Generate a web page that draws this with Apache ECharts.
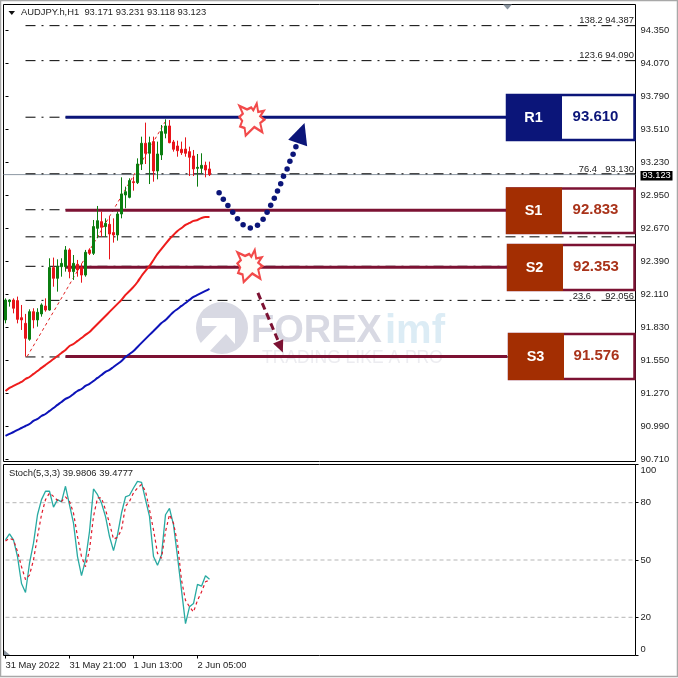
<!DOCTYPE html>
<html>
<head>
<meta charset="utf-8">
<style>html,body{margin:0;padding:0;background:#fff}#c{width:678px;height:678px}</style>
<script src="https://cdn.jsdelivr.net/npm/echarts@6/dist/echarts.min.js"></script>
</head>
<body>
<div id="c"></div>
<script>
// [open, close, low, high]
const candles = [
[91.890,92.059,91.861,92.073],[92.045,92.059,92.003,92.065],[92.059,91.989,91.946,92.073],[92.054,91.895,91.861,92.088],
[91.909,91.890,91.805,92.017],[91.861,91.734,91.579,91.941],[91.726,91.960,91.714,91.980],[91.960,91.890,91.819,91.989],
[91.890,91.955,91.833,91.989],[91.941,92.017,91.918,92.031],[92.008,91.974,91.960,92.073],[91.974,92.334,91.969,92.413],
[92.334,92.243,92.172,92.419],[92.243,92.342,92.130,92.404],[92.342,92.370,92.257,92.413],[92.342,92.484,92.300,92.517],
[92.484,92.300,92.243,92.498],[92.300,92.370,92.229,92.441],[92.362,92.314,92.257,92.399],[92.334,92.271,92.206,92.370],
[92.271,92.464,92.257,92.484],[92.484,92.455,92.441,92.498],[92.455,92.682,92.441,92.738],[92.667,92.732,92.583,92.857],
[92.724,92.676,92.597,92.809],[92.682,92.710,92.597,92.752],[92.701,92.619,92.404,92.766],[92.631,92.611,92.546,92.752],
[92.611,92.789,92.563,92.809],[92.789,92.959,92.752,93.100],[92.950,92.978,92.837,93.021],[92.930,93.072,92.922,93.092],
[93.063,93.055,92.987,93.106],[93.055,93.213,93.043,93.261],[93.213,93.389,93.162,93.445],[93.389,93.304,93.213,93.564],
[93.304,93.394,93.043,93.445],[93.403,93.154,93.063,93.445],[93.154,93.298,93.083,93.403],[93.290,93.488,93.247,93.544],
[93.473,93.536,93.431,93.592],[93.536,93.394,93.389,93.586],[93.400,93.338,93.318,93.417],[93.366,93.326,93.275,93.411],
[93.338,93.309,93.290,93.403],[93.340,93.304,93.275,93.439],[93.318,93.270,93.111,93.360],[93.281,93.171,93.111,93.332],
[93.176,93.185,93.021,93.298],[93.176,93.202,93.134,93.304],[93.202,93.162,93.100,93.233],[93.171,93.123,93.111,93.233]
];
const maRed = [91.287,91.313,91.330,91.347,91.364,91.389,91.406,91.432,91.457,91.483,91.508,91.533,91.559,91.584,91.610,91.635,91.669,91.686,91.712,91.737,91.763,91.788,91.822,91.856,91.890,91.924,91.958,91.992,92.026,92.060,92.102,92.136,92.170,92.212,92.263,92.306,92.348,92.399,92.450,92.492,92.535,92.577,92.611,92.645,92.670,92.696,92.713,92.730,92.738,92.755,92.764,92.764];
const maBlue = [90.906,90.923,90.939,90.957,90.973,90.990,91.007,91.033,91.050,91.075,91.092,91.118,91.143,91.169,91.194,91.220,91.236,91.262,91.287,91.304,91.330,91.347,91.372,91.398,91.423,91.449,91.466,91.491,91.516,91.542,91.576,91.601,91.627,91.661,91.695,91.729,91.763,91.796,91.830,91.864,91.890,91.924,91.958,91.983,92.009,92.034,92.060,92.085,92.102,92.119,92.136,92.153];
const stochMain = [60.5,63.7,60.5,51.8,37.7,33.0,48.3,58.8,73.7,81.6,86.0,86.0,77.7,81.6,80.4,88.6,78.9,69.3,51.8,41.8,50.0,64.9,87.2,84.2,79.8,72.8,62.3,54.9,63.2,74.6,83.0,83.9,87.7,91.2,90.7,81.6,72.8,51.8,47.2,52.6,73.7,77.0,68.4,51.8,34.2,16.7,25.5,27.2,37.2,36.3,41.8,39.98];
const stochSignal = [60.0,61.4,60.5,54.4,46.5,39.8,42.1,50.0,62.3,73.7,81.6,85.1,83.3,81.2,80.7,83.0,80.7,74.6,62.3,51.8,46.5,55.3,72.8,82.5,82.5,76.3,69.3,60.9,61.9,65.8,78.1,80.7,85.1,87.7,89.5,86.0,76.3,65.8,53.5,50.9,64.9,73.7,69.3,58.8,39.5,28.9,25.5,22.8,28.9,33.3,38.6,39.48];
const priceTicks = [94.35,94.07,93.79,93.51,93.23,92.95,92.67,92.39,92.11,91.83,91.55,91.27,90.99,90.71];
const stochTicks = [0,20,50,80,100];
const timeLabels = {0:'31 May 2022',16:'31 May 21:00',32:'1 Jun 13:00',48:'2 Jun 05:00'};
const fibLevels = [94.387,94.090,93.610,93.130,92.825,92.595,92.345,92.056,91.576];
const fibStartBar = 5;
const lastPrice = 93.123;
const fibTrend = [[5.4,91.579],[39.9,93.57]];
const levelR1 = [[15,93.61],[125.4,93.61]];
const levelS1 = [[15,92.82],[125.4,92.82]];
const levelS2 = [[15,92.338],[125.4,92.338]];
const levelS3 = [[15,91.58],[125.4,91.58]];
const forecastUp = [[53.4,92.970],[54.45,92.914],[55.6,92.860],[56.8,92.803],[58.0,92.749],[59.4,92.698],[61.2,92.670],[63.0,92.693],[64.4,92.744],[65.4,92.803],[66.3,92.863],[67.2,92.922],[68.0,92.984],[68.8,93.046],[69.5,93.109],[70.4,93.171],[71.1,93.236],[71.9,93.296],[72.6,93.360]];
const arrowUpHead = [[73.9,93.476]];
const forecastDown = [[63.1,92.119],[68.6,91.678]];
const arrowDownHead = [[68.75,91.661]];
const bursts = [[61.6,93.591],[61.1,92.348]];
const barCount = 158;
const categories = Array.from({length:barCount},(_,i)=>String(i));

const NAVY='#0b1579', MAROON='#7c1233', BROWN='#a32e02';
const FONT='"Liberation Sans",Arial,sans-serif';
const BOLD='"Liberation Sans",Arial,sans-serif';
const TXT=9.4;
const burstPath='path://M90,47 L112,58 L124,52 L130,60 L140,40 L144,65 L160,62 L150,78 L162,88 L150,98 L156,125 L133,110 L108,135 L105,113 L92,108 L98,92 L90,80 L100,70 Z';

function line(data,color,width,type,z){
  return {type:'line',xAxisIndex:1,yAxisIndex:0,data,symbol:'none',silent:true,animation:false,z:z||3,
    lineStyle:{color,width,type:type||'solid'}};
}
function box(y,h,x0,split,fill,border,label,value,textColor){
  const w=634.5-x0;
  return [
    {type:'rect',z:100,shape:{x:x0,y:y,width:w,height:h},style:{fill:'#fff',stroke:border,lineWidth:2.5}},
    {type:'rect',z:101,shape:{x:x0-1,y:y-1,width:split-x0+1,height:h+2},style:{fill:fill}},
    {type:'text',z:102,x:(x0+split)/2-1,y:y+h/2,style:{text:label,fill:'#fff',font:'bold 14.5px '+BOLD,align:'center',verticalAlign:'middle'}},
    {type:'text',z:102,x:(split+634)/2-2.5,y:y+h/2-0.5,style:{text:value,fill:textColor,font:'bold 15px '+BOLD,align:'center',verticalAlign:'middle'}}
  ];
}
function small(text,x,y,align,z){
  return {type:'text',z:z||50,x,y,style:{text,fill:'#222',font:TXT+'px '+FONT,align:align||'right',verticalAlign:'middle'}};
}
const graphics=[
  {type:'rect',z:200,shape:{x:0.5,y:0.5,width:677,height:676},style:{fill:'none',stroke:'#a8a8a8',lineWidth:1.5}},
  // watermark
  {type:'circle',z:1,shape:{cx:222,cy:328,r:26},style:{fill:'#d8d9e3'}},
  {type:'polygon',z:1,shape:{points:[[202,318],[235,318],[235,344],[226,334],[208,353],[197,347],[217,326],[202,326]]},style:{fill:'#fff'}},
  {type:'text',z:1,x:251,y:332,style:{text:'FOREX',fill:'#d8d9e3',font:'bold 38px '+BOLD,verticalAlign:'middle'}},
  {type:'text',z:1,x:385,y:332,style:{text:'imf',fill:'#dcecf5',font:'bold 40px '+BOLD,verticalAlign:'middle'}},
  {type:'text',z:1,x:262,y:358,style:{text:'TRADING LIKE A PRO',fill:'#ececf0',font:'17.5px '+BOLD,verticalAlign:'middle'}},
  // header
  {type:'polygon',z:50,shape:{points:[[8.5,11],[15,11],[11.8,15]]},style:{fill:'#111'}},
  {type:'text',z:50,x:21,y:12.5,style:{text:'AUDJPY.h,H1  93.171 93.231 93.118 93.123',fill:'#222',font:TXT+'px '+FONT,verticalAlign:'middle'}},
  {type:'text',z:50,x:9,y:473.5,style:{text:'Stoch(5,3,3) 39.9806 39.4777',fill:'#222',font:TXT+'px '+FONT,verticalAlign:'middle'}},
  {type:'polygon',z:50,shape:{points:[[503,4.5],[512,4.5],[507.5,9.5]]},style:{fill:'#8b95a0'}},
  {type:'polygon',z:50,shape:{points:[[4,650],[4,655],[10,655]]},style:{fill:'#8b95a0'}},
  // price tag
  {type:'rect',z:60,shape:{x:640.5,y:171,width:32,height:9.5},style:{fill:'#000'}},
  {type:'text',z:61,x:656.5,y:175.8,style:{text:'93.123',fill:'#fff',font:TXT+'px '+FONT,align:'center',verticalAlign:'middle'}},
  // fib labels
  small('138.2 94.387',634,20),
  small('123.6 94.090',634,55),
  small('76.4',597,169,'right'),small('93.130',634,169),
  small('50.0',586,231,'right'),small('92.593',634,231),
  small('23.6',591,296,'right'),small('92.056',634,296),
  ...box(95,45,507,562,NAVY,NAVY,'R1','93.610',NAVY),
  ...box(188.5,44.5,507,562,BROWN,MAROON,'S1','92.833','#a9331a'),
  ...box(245,45,508,563,BROWN,MAROON,'S2','92.353','#a9331a'),
  ...box(334,45,509,564,BROWN,MAROON,'S3','91.576','#a9331a')
];

const series=[
  line([[-0.5,lastPrice],[157.5,lastPrice]],'#8c97a3',1,'solid',2),
  ...fibLevels.map(v=>line([[fibStartBar,v],[157.5,v]],'#000',1,[10,6,2,6],2)),
  line(fibTrend,'#e02020',1,[3,3],3),
  line(levelR1,NAVY,3,'solid',4),
  line(levelS1,MAROON,3,'solid',4),
  line(levelS2,MAROON,3,'solid',4),
  line(levelS3,MAROON,3,'solid',4),
  {type:'candlestick',xAxisIndex:0,yAxisIndex:0,data:candles,barWidth:2.5,animation:false,silent:true,z:5,
   itemStyle:{color:'#0b7d10',color0:'#e8141a',borderColor:'#0b7d10',borderColor0:'#e8141a',borderWidth:1}},
  {type:'line',xAxisIndex:0,yAxisIndex:0,data:maRed,symbol:'none',silent:true,animation:false,z:6,smooth:0.3,lineStyle:{color:'#ee1c1c',width:2}},
  {type:'line',xAxisIndex:0,yAxisIndex:0,data:maBlue,symbol:'none',silent:true,animation:false,z:6,smooth:0.3,lineStyle:{color:'#0d13b8',width:2}},
  {type:'scatter',xAxisIndex:1,yAxisIndex:0,data:forecastUp,symbol:'circle',symbolSize:5.5,silent:true,animation:false,z:8,itemStyle:{color:NAVY,opacity:1}},
  {type:'scatter',xAxisIndex:1,yAxisIndex:0,data:arrowUpHead,symbol:'triangle',symbolSize:[20,21],symbolRotate:-19,silent:true,animation:false,z:8,itemStyle:{color:NAVY,opacity:1}},
  line(forecastDown,MAROON,3,[7,4],8),
  {type:'scatter',xAxisIndex:1,yAxisIndex:0,data:arrowDownHead,symbol:'triangle',symbolSize:[11,12],symbolRotate:-157,silent:true,animation:false,z:8,itemStyle:{color:MAROON,opacity:1}},
  {type:'scatter',xAxisIndex:1,yAxisIndex:0,data:bursts,symbol:burstPath,symbolSize:[25,32],silent:true,animation:false,z:9,itemStyle:{color:'#fffdf8',borderColor:'#f24a4a',borderWidth:2.2,opacity:1}},
  {type:'line',xAxisIndex:2,yAxisIndex:1,data:stochMain,symbol:'none',silent:true,animation:false,z:4,lineStyle:{color:'#28aaa2',width:1.3}},
  {type:'line',xAxisIndex:2,yAxisIndex:1,data:stochSignal,symbol:'none',silent:true,animation:false,z:5,lineStyle:{color:'#e0182a',width:1.2,type:[3,3]}}
];

const labelShow=i=>timeLabels[i]!==undefined;
const option={
  animation:false,
  backgroundColor:'#fff',
  grid:[
    {left:3.5,top:4.5,width:632,height:457,show:true,backgroundColor:'#fff',borderColor:'#000',borderWidth:1},
    {left:3.5,top:464.5,width:632,height:191,show:true,backgroundColor:'#fff',borderColor:'#000',borderWidth:1}
  ],
  xAxis:[
    {type:'category',gridIndex:0,data:categories,show:false},
    {type:'value',gridIndex:0,min:-0.5,max:157.5,show:false},
    {type:'category',gridIndex:1,data:categories,boundaryGap:true,
     axisLine:{show:false},
     axisTick:{show:true,length:3,alignWithLabel:true,interval:labelShow,lineStyle:{color:'#000'}},
     axisLabel:{show:true,interval:labelShow,align:'left',margin:5,color:'#222',fontFamily:FONT,fontSize:TXT,formatter:(v,i)=>timeLabels[i]||''}}
  ],
  yAxis:[
    {type:'value',gridIndex:0,position:'right',min:90.6888,max:94.5664,
     axisLine:{show:false},splitLine:{show:false},
     axisTick:{show:true,length:3,customValues:priceTicks,lineStyle:{color:'#000'}},
     axisLabel:{show:true,customValues:priceTicks,margin:5,color:'#222',fontFamily:FONT,fontSize:TXT,formatter:v=>v.toFixed(3)}},
    {type:'value',gridIndex:1,position:'right',min:0,max:100,
     axisLine:{show:false},splitLine:{show:false},
     axisTick:{show:true,length:3,customValues:stochTicks,lineStyle:{color:'#000'}},
     axisLabel:{show:true,customValues:stochTicks,margin:5,color:'#222',fontFamily:FONT,fontSize:TXT,
       formatter:v=>v===100?'{top|100}':v===0?'{bot|0}':String(v),
       rich:{top:{padding:[12,0,0,0],color:'#222',fontFamily:FONT,fontSize:TXT},bot:{padding:[0,0,12,0],color:'#222',fontFamily:FONT,fontSize:TXT}}}}
  ],
  series:[...series,
    ...[20,50,80].map(v=>({type:'line',xAxisIndex:2,yAxisIndex:1,data:[['0',v],['157',v]],symbol:'none',silent:true,animation:false,z:2,lineStyle:{color:'#b5b5b5',width:1,type:[4,3]}}))
  ],
  graphic:{elements:graphics}
};
const chart=echarts.init(document.getElementById('c'),null,{renderer:'canvas'});
chart.setOption(option);
</script>
</body>
</html>
